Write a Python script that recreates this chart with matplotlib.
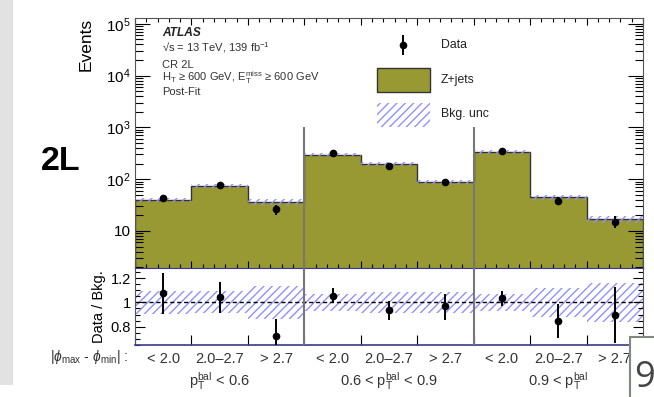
import matplotlib
matplotlib.use("Agg")
import matplotlib.pyplot as plt
import numpy as np
from matplotlib.ticker import FixedLocator, MultipleLocator, NullFormatter, LogLocator
from matplotlib.patches import Rectangle
from matplotlib.transforms import blended_transform_factory

plt.rcParams['font.family'] = ['Liberation Sans', 'DejaVu Sans']
plt.rcParams['mathtext.fontset'] = 'custom'
plt.rcParams['mathtext.rm'] = 'Liberation Sans'
plt.rcParams['mathtext.it'] = 'Liberation Sans:italic'
plt.rcParams['mathtext.bf'] = 'Liberation Sans:bold'
plt.rcParams['hatch.linewidth'] = 1.0

# bins: 3 |dphi| categories in each of 3 pT^bal regions
cat_labels = ['< 2.0', '2.0\u20132.7', '> 2.7'] * 3
group_labels = [r'$\mathregular{p_T^{bal}}$ < 0.6',
                r'0.6 < $\mathregular{p_T^{bal}}$ < 0.9',
                r'0.9 < $\mathregular{p_T^{bal}}$']
zjets = np.array([40, 74, 36, 299, 195, 90, 337, 45, 17])
data = np.array([43, 77, 26, 315, 182, 87, 348, 38, 15.2])
data_err_up = np.array([6.6, 9.1, 5.2, 18.8, 14.6, 9.4, 19.2, 6.4, 3.9])
data_err_dn = np.array([6.8, 9.5, 5.7, 18.5, 15.0, 10.3, 20.6, 6.3, 3.9])
bkg_unc = np.array([0.095, 0.09, 0.135, 0.07, 0.088, 0.088, 0.07, 0.12, 0.16])

olive = '#999933'
hatch_col = '#9090ff'
edges = np.arange(len(zjets) + 1)
centers = edges[:-1] + 0.5

fig = plt.figure(figsize=(6.54, 3.97), dpi=100)

# grey strip on the left side of the page
fig.patches.append(Rectangle((0, 0.03), 13 / 654, 0.97, transform=fig.transFigure,
                             facecolor='#e2e2e2', edgecolor='none', zorder=0))

ax = fig.add_axes([0.2064, 0.3242, 0.7768, 0.6305])
rax = fig.add_axes([0.2064, 0.131, 0.7768, 0.1932])

# --- upper panel ---
ax.stairs(zjets, edges, fill=True, color=olive, zorder=1)
ax.stairs(zjets, edges, color='#333333', lw=1.0, zorder=2)
ax.bar(edges[:-1], 2 * bkg_unc * zjets, bottom=zjets * (1 - bkg_unc), width=1, align='edge',
       facecolor='none', edgecolor=hatch_col, lw=0, hatch='////', zorder=3)
ax.errorbar(centers, data, yerr=[data_err_dn, data_err_up], fmt='o', color='black',
            ms=4.5, elinewidth=1.4, capsize=0, zorder=5)
ax.vlines([3, 6], 1.9, 1000, color='#777777', lw=1.5, zorder=4)

ax.set_xlim(0, 9)
ax.set_yscale('log')
ax.set_ylim(1.9, 1.3e5)
ax.yaxis.set_major_locator(FixedLocator([10, 1e2, 1e3, 1e4, 1e5]))
ax.set_yticklabels(['10', r'$10^2$', r'$10^3$', r'$10^4$', r'$10^5$'])
ax.yaxis.set_minor_locator(LogLocator(base=10, subs=np.arange(2, 10)))
ax.yaxis.set_minor_formatter(NullFormatter())
ax.xaxis.set_major_locator(MultipleLocator(1))
ax.xaxis.set_minor_locator(MultipleLocator(0.2))
ax.tick_params(axis='x', which='both', direction='in', top=True, bottom=True, labelbottom=False)
ax.tick_params(axis='x', which='major', length=5, width=0.8)
ax.tick_params(axis='x', which='minor', length=2.8, width=0.8)
ax.tick_params(axis='y', which='both', direction='in', left=True, right=True, labelsize=11, pad=3)
ax.tick_params(axis='y', which='major', length=11, width=0.8)
ax.tick_params(axis='y', which='minor', length=5.5, width=0.8)
for s in ax.spines.values():
    s.set_color('#555555')
ax.set_ylabel('Events', fontsize=12.5, loc='top', labelpad=9)

# ATLAS label block
tx = 0.053
ax.text(tx, 0.941, 'ATLAS', transform=ax.transAxes, fontsize=8.6, fontweight='bold',
        fontstyle='italic', va='center', color='#222222')
info = ['\u221As = 13 TeV, 139 fb$^{-1}$', 'CR 2L',
        'H$_\\mathregular{T}$ \u2265 600 GeV, E$_\\mathregular{T}^\\mathregular{miss}$ \u2265 600 GeV',
        'Post-Fit']
for y, t in zip([0.881, 0.813, 0.761, 0.705], info):
    ax.text(tx, y, t, transform=ax.transAxes, fontsize=8, va='center', color='#333333')

# legend drawn by hand
ax.errorbar([0.528], [0.893], yerr=[[0.04], [0.04]], transform=ax.transAxes, fmt='o',
            color='black', ms=4.5, elinewidth=1.4, capsize=0, clip_on=False)
ax.add_patch(Rectangle((0.476, 0.706), 0.105, 0.094, transform=ax.transAxes,
                       facecolor=olive, edgecolor='#333333', lw=1.0))
ax.add_patch(Rectangle((0.476, 0.565), 0.105, 0.094, transform=ax.transAxes,
                       facecolor='none', edgecolor=hatch_col, lw=0, hatch='////'))
for y, t in zip([0.893, 0.753, 0.617], ['Data', 'Z+jets', 'Bkg. unc']):
    ax.text(0.602, y, t, transform=ax.transAxes, fontsize=8.8, va='center', color='#222222')

# --- ratio panel ---
ratio = data / zjets
rax.bar(edges[:-1], 2 * bkg_unc, bottom=1 - bkg_unc, width=1, align='edge',
        facecolor='none', edgecolor=hatch_col, lw=0, hatch='////', zorder=1)
rax.axhline(1, color='black', ls=(0, (3, 2)), lw=1.0, zorder=2)
rax.errorbar(centers, ratio, yerr=[data_err_dn / zjets, data_err_up / zjets], fmt='o',
             color='black', ms=4.5, elinewidth=1.4, capsize=0, zorder=5)
rax.axvline(3, color='#777777', lw=1.5, zorder=4)
rax.axvline(6, color='#777777', lw=1.5, zorder=4)
rax.set_xlim(0, 9)
rax.set_ylim(0.65, 1.28)
rax.yaxis.set_major_locator(FixedLocator([0.8, 1.0, 1.2]))
rax.set_yticklabels(['0.8', '1', '1.2'])
rax.yaxis.set_minor_locator(MultipleLocator(0.05))
rax.xaxis.set_major_locator(MultipleLocator(1))
rax.tick_params(axis='x', which='both', direction='in', top=False, bottom=True,
                labelbottom=False, length=7, width=0.8)
rax.tick_params(axis='y', which='both', direction='in', left=True, right=True, labelsize=10.5, pad=3)
rax.tick_params(axis='y', which='major', length=7, width=0.8)
rax.tick_params(axis='y', which='minor', length=3.5, width=0.8)
for s in rax.spines.values():
    s.set_color('#555555')
rax.spines['bottom'].set_color('#3a3a8c')
rax.spines['bottom'].set_linewidth(1.2)
rax.spines['top'].set_color('#3a3a8c')
rax.set_ylabel('Data / Bkg.', fontsize=10.5, labelpad=3)

# bin category labels under the ratio panel
trans = blended_transform_factory(rax.transData, fig.transFigure)
for x, t in zip(centers, cat_labels):
    fig.text(x, 1 - 359 / 397, t, transform=trans, ha='center', va='center',
             fontsize=10.5, color='#333333')
for i, t in enumerate(group_labels):
    fig.text(3 * i + 1.5, 1 - 381 / 397, t, transform=trans, ha='center', va='center',
             fontsize=10.5, color='#333333')
fig.text(128 / 654, 1 - 357 / 397, r'$|\phi_\mathregular{max}$ - $\phi_\mathregular{min}|$ :',
         ha='right', va='center', fontsize=10, color='#333333')

# region tag and page number box
fig.text(41 / 654, 1 - 161 / 397, '2L', fontsize=24.5, fontweight='bold', va='center')
fig.patches.append(Rectangle((630 / 654, -0.1), 0.2, 1 - 337 / 397 + 0.1,
                             transform=fig.transFigure, facecolor='white',
                             edgecolor='#7d8a7d', lw=1.5, zorder=10))
fig.text(634 / 654, 1 - 378 / 397, '9', fontsize=26, color='#444444', va='center',
         family='Open Sans', zorder=11)

fig.savefig('out.png', dpi=100)
